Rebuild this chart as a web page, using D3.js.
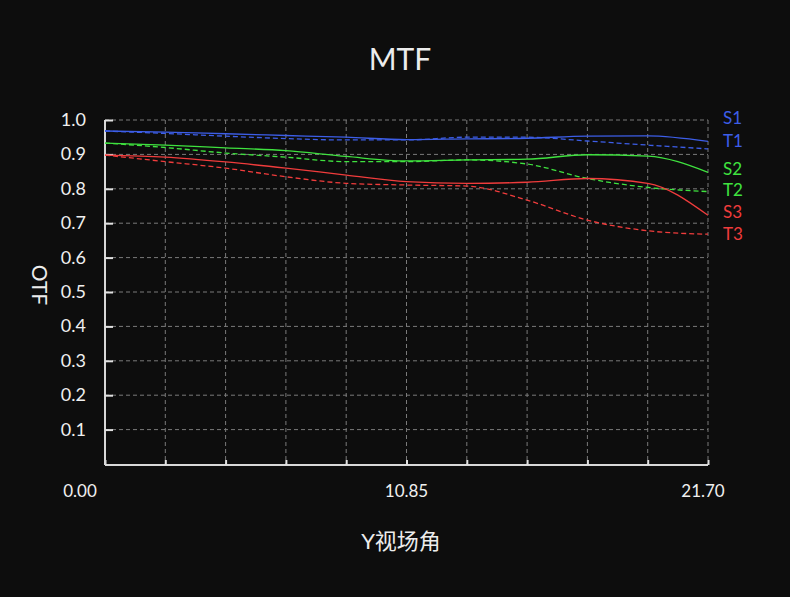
<!DOCTYPE html>
<html>
<head>
<meta charset="utf-8">
<script src="https://cdn.jsdelivr.net/npm/d3@7"></script>
<style>
  body { margin: 0; background: #0d0d0d; }
  svg { display: block; }
  text { font-family: Lato, "Noto Sans CJK SC", sans-serif; }
</style>
</head>
<body>
<script>
// field positions (degrees) and MTF values
var fields = [0, 2.17, 4.34, 6.51, 8.68, 10.85, 13.02, 15.19, 17.36, 19.53, 21.7]
var xLabels = [0, 10.85, 21.7]
var yTicks = [0.1, 0.2, 0.3, 0.4, 0.5, 0.6, 0.7, 0.8, 0.9, 1.0]

var s1 = [0.968, 0.965, 0.960, 0.955, 0.950, 0.943, 0.945, 0.947, 0.953, 0.954, 0.938]
var t1 = [0.968, 0.961, 0.953, 0.946, 0.942, 0.942, 0.950, 0.950, 0.939, 0.927, 0.916]
var s2 = [0.933, 0.927, 0.919, 0.911, 0.894, 0.881, 0.884, 0.886, 0.899, 0.895, 0.848]
var t2 = [0.933, 0.920, 0.904, 0.892, 0.879, 0.879, 0.884, 0.872, 0.830, 0.804, 0.792]
var s3 = [0.898, 0.892, 0.878, 0.860, 0.840, 0.821, 0.816, 0.819, 0.830, 0.816, 0.723]
var t3 = [0.898, 0.879, 0.860, 0.835, 0.816, 0.811, 0.808, 0.767, 0.709, 0.678, 0.668]

var seriesNames = ["S1", "T1", "S2", "T2", "S3", "T3"]
var seriesColors = ["#3d5ee8", "#3d5ee8", "#3fe23f", "#3fe23f", "#f03c3c", "#f03c3c"]
var seriesData = [s1, t1, s2, t2, s3, t3]

var width = 790, height = 597
var plotL = 105, plotR = 708, plotT = 120, plotB = 464

var svg = d3.select("body").append("svg")
  .attr("width", width)
  .attr("height", height)

svg.append("rect").attr("width", width).attr("height", height).attr("fill", "#0d0d0d")

var x = d3.scaleLinear().domain([0, 21.7]).range([plotL, plotR])
var y = d3.scaleLinear().domain([0, 1]).range([plotB, plotT])

// grid
var grid = svg.append("g")
grid.selectAll(".vg")
  .data(fields.slice(1))
  .enter().append("line")
  .attr("x1", function(d){ return x(d) })
  .attr("x2", function(d){ return x(d) })
  .attr("y1", plotT).attr("y2", plotB)
  .attr("stroke", "#7a7a7a").attr("stroke-width", 1).attr("stroke-dasharray", "4,3")

grid.selectAll(".hg")
  .data(yTicks)
  .enter().append("line")
  .attr("x1", plotL).attr("x2", plotR)
  .attr("y1", function(d){ return y(d) })
  .attr("y2", function(d){ return y(d) })
  .attr("stroke", "#7a7a7a").attr("stroke-width", 1).attr("stroke-dasharray", "4,3")

// axes
var xAxis = d3.axisBottom(x).tickValues(fields).tickSize(-5).tickFormat("")
var yAxis = d3.axisLeft(y).tickValues(yTicks).tickSize(-8).tickFormat("")

var gx = svg.append("g").attr("transform", "translate(0," + (plotB + 1) + ")").call(xAxis)
var gy = svg.append("g").attr("transform", "translate(" + plotL + ",0)").call(yAxis)
gx.select(".domain").attr("stroke", "#d8d8d8").attr("stroke-width", 2).attr("d", "M" + plotL + ",0H" + plotR)
gy.select(".domain").attr("stroke", "#d8d8d8").attr("stroke-width", 2).attr("d", "M0," + plotT + "V" + (plotB + 1))
svg.selectAll(".tick line").attr("stroke", "#e0e0e0").attr("stroke-width", 2)

// y tick labels
svg.selectAll(".ylab")
  .data(yTicks)
  .enter().append("text")
  .attr("x", 86)
  .attr("y", function(d){ return y(d) + 6 })
  .attr("text-anchor", "end")
  .attr("fill", "#f0f0f0")
  .attr("font-size", 18)
  .text(function(d){ return d.toFixed(1) })

// x tick labels
var xOffsets = [-25, 0, -5]
svg.selectAll(".xlab")
  .data(xLabels)
  .enter().append("text")
  .attr("x", function(d, i){ return x(d) + xOffsets[i] })
  .attr("y", 497)
  .attr("text-anchor", "middle")
  .attr("fill", "#f0f0f0")
  .attr("font-size", 17)
  .text(function(d){ return d.toFixed(2) })

// curves
var line = d3.line()
  .x(function(d, i){ return x(fields[i]) })
  .y(function(d){ return y(d) })
  .curve(d3.curveMonotoneX)

svg.selectAll(".curve")
  .data(seriesData)
  .enter().append("path")
  .attr("d", line)
  .attr("fill", "none")
  .attr("stroke", function(d, i){ return seriesColors[i] })
  .attr("stroke-width", 1.3)
  .attr("stroke-dasharray", function(d, i){ return i % 2 ? "5,3" : null })

// legend
var legendY = [118, 141, 169, 190, 212, 234]
svg.selectAll(".leg")
  .data(seriesNames)
  .enter().append("text")
  .attr("x", 723)
  .attr("y", function(d, i){ return legendY[i] + 6 })
  .attr("fill", function(d, i){ return seriesColors[i] })
  .attr("font-size", 17)
  .text(function(d){ return d })

// titles
svg.append("text").text("MTF")
  .attr("x", 400).attr("y", 70)
  .attr("text-anchor", "middle")
  .attr("fill", "#ececec").attr("font-size", 30)

svg.append("text").text("Y视场角")
  .attr("x", 401).attr("y", 549)
  .attr("text-anchor", "middle")
  .attr("fill", "#ececec").attr("font-size", 22)

svg.append("text").text("OTF")
  .attr("transform", "translate(32,285) rotate(90)")
  .attr("text-anchor", "middle")
  .attr("fill", "#ececec").attr("font-size", 21)
</script>
</body>
</html>
